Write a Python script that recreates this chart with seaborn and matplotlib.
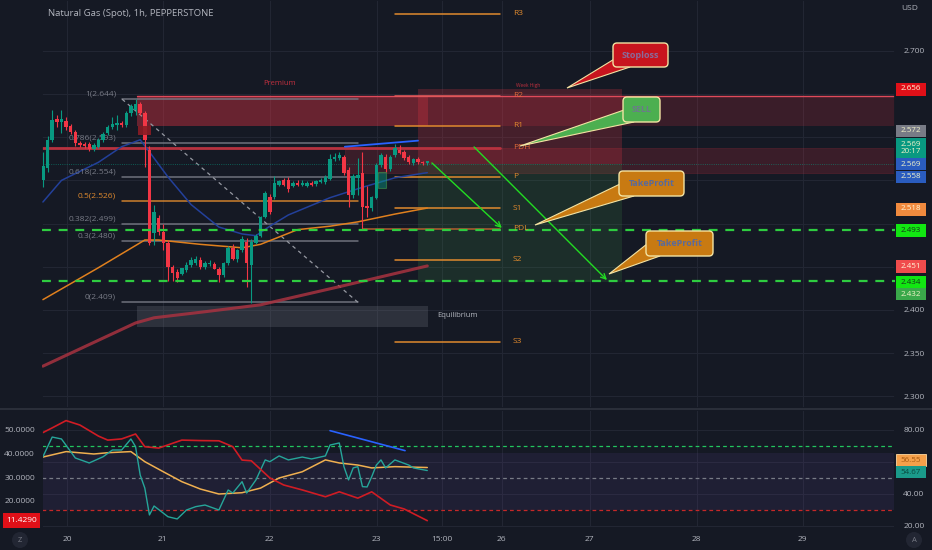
import numpy as np
import pandas as pd
import matplotlib
matplotlib.use("Agg")
import matplotlib.pyplot as plt
import seaborn as sns
from matplotlib.patches import Rectangle, FancyBboxPatch, Polygon, Circle

# ---------------- data ----------------
# 1h candles, bar 0 = first visible bar (19th evening)
opens = [2.550, 2.564, 2.597, 2.621, 2.618, 2.619, 2.613, 2.606, 2.593, 2.592,
         2.592, 2.586, 2.589, 2.597, 2.605, 2.612, 2.614, 2.616, 2.614, 2.628,
         2.631, 2.638, 2.628, 2.585, 2.489, 2.506, 2.490, 2.478, 2.450, 2.444,
         2.442, 2.446, 2.452, 2.454, 2.458, 2.450, 2.453, 2.453, 2.448, 2.440,
         2.454, 2.472, 2.459, 2.469, 2.479, 2.452, 2.478, 2.486, 2.508, 2.531,
         2.531, 2.545, 2.550, 2.551, 2.544, 2.547, 2.545, 2.544, 2.547, 2.546,
         2.548, 2.548, 2.552, 2.575, 2.576, 2.577, 2.562, 2.533, 2.553, 2.559,
         2.520, 2.518, 2.530, 2.568, 2.577, 2.563, 2.579, 2.585, 2.583, 2.577,
         2.570, 2.575, 2.571, 2.570]
highs = [2.583, 2.601, 2.631, 2.626, 2.631, 2.623, 2.615, 2.608, 2.596, 2.594,
         2.594, 2.593, 2.599, 2.606, 2.614, 2.623, 2.626, 2.619, 2.630, 2.638,
         2.644, 2.641, 2.630, 2.590, 2.522, 2.510, 2.499, 2.481, 2.452, 2.448,
         2.449, 2.455, 2.461, 2.462, 2.461, 2.457, 2.458, 2.456, 2.450, 2.456,
         2.474, 2.476, 2.471, 2.486, 2.483, 2.482, 2.488, 2.509, 2.538, 2.534,
         2.555, 2.551, 2.553, 2.554, 2.549, 2.550, 2.550, 2.549, 2.549, 2.551,
         2.553, 2.556, 2.580, 2.582, 2.583, 2.579, 2.566, 2.557, 2.576, 2.583,
         2.543, 2.532, 2.570, 2.582, 2.580, 2.579, 2.592, 2.591, 2.585, 2.579,
         2.576, 2.577, 2.573, 2.573]
lows = [2.542, 2.560, 2.594, 2.612, 2.605, 2.608, 2.604, 2.590, 2.589, 2.588,
        2.584, 2.584, 2.587, 2.595, 2.603, 2.610, 2.608, 2.612, 2.612, 2.625,
        2.626, 2.626, 2.566, 2.475, 2.475, 2.487, 2.470, 2.434, 2.433, 2.432,
        2.440, 2.444, 2.450, 2.452, 2.448, 2.448, 2.451, 2.447, 2.432, 2.438,
        2.452, 2.458, 2.456, 2.467, 2.427, 2.408, 2.476, 2.484, 2.506, 2.511,
        2.529, 2.543, 2.544, 2.536, 2.542, 2.543, 2.543, 2.542, 2.544, 2.544,
        2.547, 2.546, 2.550, 2.572, 2.574, 2.556, 2.519, 2.530, 2.533, 2.493,
        2.508, 2.515, 2.528, 2.566, 2.560, 2.561, 2.577, 2.580, 2.574, 2.569,
        2.568, 2.569, 2.568, 2.568]
closes = [2.567, 2.597, 2.620, 2.618, 2.621, 2.612, 2.606, 2.593, 2.591, 2.590,
          2.586, 2.591, 2.597, 2.604, 2.612, 2.615, 2.616, 2.614, 2.628, 2.636,
          2.638, 2.628, 2.597, 2.478, 2.513, 2.490, 2.478, 2.450, 2.443, 2.437,
          2.449, 2.452, 2.458, 2.459, 2.450, 2.454, 2.454, 2.448, 2.440, 2.454,
          2.472, 2.459, 2.469, 2.482, 2.454, 2.479, 2.486, 2.508, 2.535, 2.513,
          2.547, 2.549, 2.545, 2.540, 2.547, 2.545, 2.547, 2.547, 2.545, 2.549,
          2.551, 2.554, 2.575, 2.577, 2.579, 2.559, 2.533, 2.555, 2.556, 2.519,
          2.518, 2.531, 2.568, 2.579, 2.563, 2.577, 2.588, 2.582, 2.576, 2.571,
          2.575, 2.571, 2.570, 2.572]

# moving averages (bar, value)
fast_ma_bar = [0, 4, 12, 17, 21, 23, 27, 32, 38, 43, 46, 49, 53, 62, 69, 76, 83]
fast_ma = [2.525, 2.550, 2.571, 2.589, 2.597, 2.583, 2.554, 2.522, 2.496, 2.488,
           2.486, 2.497, 2.510, 2.530, 2.542, 2.553, 2.559]
mid_ma_bar = [0, 12, 22, 25, 34, 43, 47, 55, 62, 68, 76, 83]
mid_ma = [2.412, 2.449, 2.481, 2.481, 2.476, 2.472, 2.476, 2.493, 2.497, 2.502, 2.511, 2.518]
slow_ma_bar = [0, 12, 20, 24, 35, 47, 64, 83]
slow_ma = [2.335, 2.365, 2.385, 2.391, 2.398, 2.406, 2.427, 2.451]

# oscillator pane
red_osc_bar = [0, 2, 5, 8, 12, 14, 17, 20, 22, 25, 30, 34, 38, 41, 43, 45, 49, 52,
               56, 61, 64, 68, 71, 75, 78, 83]
red_osc = [48.9, 50.9, 54.0, 52.1, 47.4, 45.7, 46.2, 48.3, 42.9, 42.3, 45.7, 45.5,
           45.4, 42.9, 37.2, 36.9, 29.6, 26.6, 24.5, 21.6, 23.7, 21.0, 23.7, 18.1,
           16.4, 11.429]
teal_osc_bar = [0, 2, 4, 7, 10, 13, 15, 17, 19, 20, 21, 22, 23, 24, 27, 29, 31, 33,
                35, 38, 40, 41, 43, 44, 46, 48, 49, 51, 53, 56, 58, 61, 62, 64, 65,
                66, 67, 68, 69, 70, 71, 72, 73, 74, 76, 79, 80, 83]
teal_osc = [63.3, 75.6, 74.4, 62.5, 59.4, 63.3, 67.5, 67.5, 74.4, 69.6, 51.9, 43.7,
            26.9, 32.5, 25.8, 24.4, 30.0, 32.1, 33.1, 30.0, 42.5, 40.6, 47.7, 40.6,
            48.8, 61.3, 60.2, 63.8, 61.3, 63.1, 61.9, 63.8, 70.6, 71.9, 57.1, 48.8,
            56.3, 57.1, 44.6, 44.4, 50.8, 58.1, 61.3, 56.3, 61.3, 58.1, 56.3, 54.67]
orange_osc_bar = [0, 5, 11, 14, 19, 22, 26, 30, 34, 38, 43, 47, 51, 56, 61, 64, 68, 71, 76, 83]
orange_osc = [63.1, 66.5, 65.0, 65.8, 66.5, 60.2, 53.9, 47.7, 43.1, 40.0, 40.8, 43.7,
              50.0, 53.9, 61.3, 59.4, 58.1, 56.3, 57.1, 56.55]
osc_levels = [70, 50, 30]

# pivots and fibonacci
pivot_names = ["R3", "R2", "R1", "PDH", "P", "S1", "PDL", "S2", "S3"]
pivot_values = [2.743, 2.648, 2.613, 2.588, 2.554, 2.518, 2.494, 2.458, 2.363]
fib_ratios = ["1", "0.786", "0.618", "0.5", "0.382", "0.3", "0"]
fib_values = [2.644, 2.593, 2.554, 2.526, 2.499, 2.480, 2.409]
take_profits = [2.493, 2.434]
entry_price, stop_price = 2.569, 2.656

price_ticks = [2.30, 2.35, 2.40, 2.45, 2.50, 2.55, 2.60, 2.65, 2.70]
hidden_price_ticks = [2.45, 2.50, 2.55, 2.60, 2.65]   # covered by the price tags
day_labels = ["20", "21", "22", "23", "15:00", "26", "27", "28", "29"]
day_bars = [5.2, 25.9, 49.0, 72.1, 86.2, 99.1, 118.1, 141.2, 164.1]

tag_texts = ["2.656", "2.572", "2.569\n20:17", "2.569", "2.558", "2.518", "2.493",
             "2.451", "2.434", "2.432"]

# ---------------- style ----------------
BG = "#151924"
GRID = "#222633"
TXT = "#b2b5be"
UP, DOWN = "#089981", "#f23645"
ORANGE = "#e08a2e"

sns.set_theme(style="darkgrid", rc={
    "axes.facecolor": BG, "figure.facecolor": BG, "grid.color": GRID,
    "axes.edgecolor": BG, "grid.linewidth": 0.8, "patch.edgecolor": "none",
    "xtick.color": TXT, "ytick.color": TXT,
})
plt.rcParams["font.family"] = ["Open Sans", "DejaVu Sans"]

fig = plt.figure(figsize=(9.32, 5.5), dpi=100)
ax = fig.add_axes([42 / 932, 142 / 550, 853 / 932, 408 / 550])
axo = fig.add_axes([42 / 932, 22 / 550, 853 / 932, 118 / 550])

# ---------------- main pane ----------------
df = pd.DataFrame({"bar": np.arange(len(opens)), "open": opens, "high": highs,
                   "low": lows, "close": closes})
colors = np.where(df["close"] >= df["open"], UP, DOWN)
body = np.maximum((df["close"] - df["open"]).abs(), 0.0009)
ax.vlines(df["bar"], df["low"], df["high"], colors=colors, lw=0.8, zorder=4)
ax.bar(df["bar"], body, bottom=np.minimum(df["open"], df["close"]), width=0.74,
       color=colors, edgecolor="none", linewidth=0, zorder=5)

sns.lineplot(x=slow_ma_bar, y=slow_ma, ax=ax, color="#a83240", lw=2.2, alpha=0.85, zorder=3)
sns.lineplot(x=mid_ma_bar, y=mid_ma, ax=ax, color="#e0801e", lw=1.1, zorder=3)
sns.lineplot(x=fast_ma_bar, y=fast_ma, ax=ax, color="#23409a", lw=1.1, zorder=3)

# boxes
ax.add_patch(Rectangle((20.3, pivot_values[2]), 163.7, pivot_values[1] - pivot_values[2],
                       facecolor=DOWN, alpha=0.17, lw=0, zorder=1))
ax.add_patch(Rectangle((20.3, pivot_values[2]), 62.9, pivot_values[1] - pivot_values[2],
                       facecolor=DOWN, alpha=0.25, lw=0, zorder=1))
ax.plot([20.3, 184], [pivot_values[1]] * 2, color="#e04a5a", lw=1, zorder=2)
ax.add_patch(Rectangle((65.2, 2.558), 118.8, pivot_values[3] - 2.558,
                       facecolor=DOWN, alpha=0.17, edgecolor="#f23645", lw=0.6, zorder=1))
ax.add_patch(Rectangle((20.3, 2.3803), 62.9, 0.0243, facecolor="#787b86", alpha=0.25,
                       lw=0, zorder=1))
ax.add_patch(Rectangle((20.5, 2.6025), 2.8, 0.0105, facecolor="#8b1c24", alpha=0.9,
                       lw=0, zorder=6))
ax.add_patch(Rectangle((72.4, 2.5412), 1.7, 0.0185, facecolor=UP, alpha=0.45,
                       edgecolor="#4caf50", lw=0.8, zorder=6))

# short position tool
ax.add_patch(Rectangle((81, entry_price), 44.1, stop_price - entry_price,
                       facecolor=DOWN, alpha=0.22, lw=0, zorder=1))
ax.add_patch(Rectangle((81, take_profits[1] - 0.002), 44.1, entry_price - take_profits[1] + 0.002,
                       facecolor="#4caf50", alpha=0.14, lw=0, zorder=1))

# fib retracement
for r, v in zip(fib_ratios, fib_values):
    c = ORANGE if r == "0.5" else "#787b86"
    ax.plot([17.1, 68], [v, v], color=c, lw=1.1, alpha=0.9, zorder=2)
    ax.text(15.8, v + 0.002, f"{r}({v:.3f})", color=c, fontsize=6, ha="right",
            va="bottom", zorder=3)
ax.plot([17.1, 68], [fib_values[0], fib_values[-1]], color="#9598a1", lw=0.9,
        ls=(0, (3, 3)), zorder=2)

# pivots
for n, v in zip(pivot_names, pivot_values):
    start = 76
    c = ORANGE
    lw = 1.1
    if n == "PDH":
        start, c, lw = -0.2, "#b8323f", 2.0
    elif n == "R2":
        c = "#e05a5a"
    elif n == "PDL":
        start, c = 69.1, "#b0602e"
    ax.plot([start, 98.7], [v, v], color=c, lw=lw, zorder=2)
    ax.text(101.5, v, n, color="#e06a3a" if n in ("PDH", "R2") else ORANGE,
            fontsize=6, ha="left", va="center", zorder=7)

ax.text(51.2, 2.6616, "Premium", color="#c0303f", fontsize=5.5, ha="center", va="center")
ax.text(104.8, 2.6593, "Week High", color="#c0303f", fontsize=3.5, ha="center", va="center")
ax.text(85.1, 2.3931, "Equilibrium", color=TXT, fontsize=5.5, ha="left", va="center")

for tp in take_profits:
    ax.axhline(tp, color="#2ecc40", lw=1.6, ls=(0, (4, 3.5)), zorder=6)
ax.axhline(entry_price, color=UP, lw=0.6, ls=":", alpha=0.7, zorder=2)

ax.plot([65.2, 81], [2.589, 2.596], color="#2962ff", lw=1.3, zorder=6)
arrow = dict(arrowstyle="->", color="#22dd22", lw=1.0, shrinkA=0, shrinkB=0,
             mutation_scale=9)
ax.annotate("", xy=(99.1, 2.4949), xytext=(84.0, 2.5702), arrowprops=arrow, zorder=8)
ax.annotate("", xy=(121.8, 2.4347), xytext=(93.1, 2.5887), arrowprops=arrow, zorder=8)

ax.set_xlim(-0.2, 184)
ax.set_ylim(2.28657, 2.7588)
ax.set_xticks(day_bars)
ax.set_xticklabels([])
ax.set_yticks(price_ticks)
ax.set_yticklabels(["" if p in hidden_price_ticks else f"{p:.3f}" for p in price_ticks])
ax.yaxis.tick_right()
ax.tick_params(axis="y", length=0, pad=6, labelsize=6, colors=TXT)
ax.tick_params(axis="x", length=0)
ax.set_xlabel("")
ax.set_ylabel("")

# ---------------- oscillator pane ----------------
axo.axhspan(30, 65.5, color="#7e57c2", alpha=0.1, lw=0)
for lv, c in zip(osc_levels, ["#22c55e", "#787b86", "#c62828"]):
    axo.axhline(lv, color=c, lw=0.9, ls=(0, (3, 2.5)))
sns.lineplot(x=orange_osc_bar, y=orange_osc, ax=axo, color="#f0b050", lw=1.1)
sns.lineplot(x=teal_osc_bar, y=teal_osc, ax=axo, color="#26a69a", lw=1.0)
axo.plot([62, 78.2], [79.6, 67.1], color="#2962ff", lw=1.2)
axo.set_xlim(-0.2, 184)
axo.set_ylim(18.75, 92.5)
axo.set_xticks(day_bars)
axo.set_xticklabels(day_labels)
axo.set_xlabel("")
axo.set_ylabel("")

axl = axo.twinx()
sns.lineplot(x=red_osc_bar, y=red_osc, ax=axl, color="#d01c24", lw=1.2)
axl.set_ylim(8.30, 58.51)
axl.set_yticks([20, 30, 40, 50])
axl.set_yticklabels([f"{v:.4f}" for v in [20, 30, 40, 50]])
axl.grid(False)
axl.set_ylabel("")

# twinx flips the sides, so put them back afterwards
axo.yaxis.tick_right()
axo.set_yticks([20, 40, 60, 80])
axo.set_yticklabels(["20.00", "40.00", "", "80.00"])
axo.tick_params(axis="both", length=0, labelsize=6, colors=TXT)
axo.tick_params(axis="x", pad=6)
axo.tick_params(axis="y", pad=6)
axl.yaxis.tick_left()
axl.tick_params(axis="y", length=0, pad=5, labelsize=6, colors=TXT)

# ---------------- overlay (labels, callouts) ----------------
ov = fig.add_axes([0, 0, 1, 1], zorder=10)
ov.set_xlim(0, 932)
ov.set_ylim(550, 0)
ov.axis("off")
ov.patch.set_alpha(0)

ov.plot([0, 932], [409, 409], color="#2a2e39", lw=1.5)
ov.text(48, 14, "Natural Gas (Spot), 1h, PEPPERSTONE", fontsize=6.8, color=TXT, va="center")
ov.text(910, 9, "USD", fontsize=6, color=TXT, ha="center", va="center")

tag_y = [89, 131, 148, 164, 177, 209, 230, 266, 282, 294]
tag_h = [13, 12, 21, 12, 12, 13, 13, 13, 12, 12]
tag_face = ["#e01018", "#787b86", "#089981", "#2a5cbf", "#2a5cbf", "#f08a3e",
            "#12e612", "#f04c4c", "#12e612", "#3aa84a"]
tag_fg = ["#fff6d8", "#f3f3c8", "#f3f3c8", "#f3f3c8", "#f3f3c8", "#fff6d8",
          "#14361a", "#fff6d8", "#14361a", "#f3f3c8"]
for t, y, h, fc, tc in zip(tag_texts, tag_y, tag_h, tag_face, tag_fg):
    ov.add_patch(Rectangle((896, y - h / 2), 30, h, facecolor=fc, lw=0))
    ov.text(911, y, t, ha="center", va="center", fontsize=5.8, color=tc, linespacing=1.1)

# oscillator tags
ov.add_patch(Rectangle((896, 454), 30, 12, facecolor="#f5a04a", edgecolor="#ffd9a0", lw=0.6))
ov.text(911, 460, f"{orange_osc[-1]:.2f}", ha="center", va="center", fontsize=5.8, color="#a85a10")
ov.add_patch(Rectangle((896, 466), 30, 12, facecolor="#1a9a8a", lw=0))
ov.text(911, 472, f"{teal_osc[-1]:.2f}", ha="center", va="center", fontsize=5.8, color="#0a4a40")
ov.add_patch(Rectangle((3, 513), 37, 15, facecolor="#e01018", lw=0))
ov.text(21.5, 520.5, f"{red_osc[-1]:.4f}", ha="center", va="center", fontsize=6, color="white")

for cx, letter in [(20, "Z"), (914, "A")]:
    ov.add_patch(Circle((cx, 540), 8, facecolor="#222633", lw=0))
    ov.text(cx, 540, letter, ha="center", va="center", fontsize=5.5, color="#787b86")

EDGE = "#f3e3a3"


def callout(box, pointer, face, text, tcolor):
    x0, y0, x1, y1 = box
    ov.add_patch(Polygon(pointer, closed=True, facecolor=face, edgecolor=EDGE, lw=0.8))
    ov.add_patch(FancyBboxPatch((x0, y0), x1 - x0, y1 - y0,
                                boxstyle="round,pad=0,rounding_size=4",
                                facecolor=face, edgecolor=EDGE, lw=1))
    ov.text((x0 + x1) / 2, (y0 + y1) / 2, text, ha="center", va="center",
            fontsize=6.5, color=tcolor, fontweight="bold")


callout((613, 43, 668, 67), [(616, 58), (630, 67), (567, 88)], "#c8141e", "Stoploss", "#8a6a9a")
callout((623, 97, 660, 122), [(624, 110), (634, 122), (520, 146)], "#4caf50", "SELL", "#6b7b8b")
callout((619, 171, 684, 196), [(620, 184), (634, 196), (535, 225)], "#c87a12", "TakeProfit", "#5a6a9a")
callout((646, 231, 713, 256), [(647, 244), (660, 256), (609, 274)], "#c87a12", "TakeProfit", "#5a6a9a")

fig.savefig("out.png", dpi=100, facecolor=BG)
